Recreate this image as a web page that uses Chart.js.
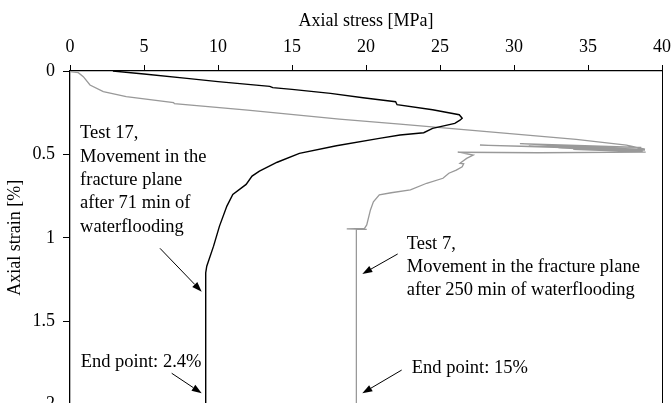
<!DOCTYPE html>
<html>
<head>
<meta charset="utf-8">
<script src="https://cdn.jsdelivr.net/npm/chart.js@4.4.0/dist/chart.umd.min.js"></script>
<style>
    html, body { margin: 0; padding: 0; background: #fff; overflow: hidden; }
    #wrap { position: relative; width: 671px; height: 430px; }
</style>
</head>
<body>
<div id="wrap"><canvas id="chart"></canvas></div>
<script>
// Test 17 (black): axial stress [MPa] vs axial strain [%]
const test17Stress = [2.9, 5.0, 7.9, 10.0, 13.5, 13.7, 15.0, 17.6, 19.8, 20.9, 22.0, 22.1, 24.5, 26.3, 26.5, 26.35, 26.0, 24.5, 23.9, 22.3, 20.9, 18.0, 15.5, 14.0, 12.8, 12.3, 11.9, 11.0, 10.6, 10.1, 9.7, 9.24, 9.17, 9.17];
const test17Strain = [0, 0.018, 0.044, 0.064, 0.092, 0.1, 0.11, 0.134, 0.16, 0.172, 0.184, 0.202, 0.232, 0.262, 0.283, 0.295, 0.314, 0.344, 0.37, 0.384, 0.404, 0.448, 0.494, 0.547, 0.6, 0.63, 0.68, 0.74, 0.81, 0.93, 1.05, 1.17, 1.21, 2.0];

// Test 7 (grey)
const test7Stress = [0, 0.56, 0.9, 1.35, 2.25, 3.8, 7.0, 7.05, 12.0, 18.2, 22.3, 27.0, 34.2, 37.6, 38.85,
    27.7, 38.85, 30.4, 38.6, 31.0, 38.8, 32.0, 38.7, 33.0, 38.5, 34.0, 38.9, 31.6, 26.2, 27.25, 26.8, 26.35, 26.6, 26.5, 26.1, 25.6, 25.2, 24.1, 23.0, 21.7, 20.9, 20.5, 20.3, 20.05, 19.9, 18.7, 20.05, 19.35, 19.35];
const test7Strain = [0.004, 0.01, 0.034, 0.084, 0.124, 0.154, 0.19, 0.196, 0.235, 0.288, 0.318, 0.355, 0.41, 0.444, 0.468,
    0.444, 0.474, 0.436, 0.458, 0.45, 0.472, 0.455, 0.478, 0.46, 0.482, 0.47, 0.486, 0.49, 0.487, 0.504, 0.524, 0.553, 0.556, 0.574, 0.594, 0.613, 0.643, 0.673, 0.713, 0.73, 0.743, 0.784, 0.833, 0.923, 0.943, 0.947, 0.949, 0.95, 2.0];

const xTicks = [0, 5, 10, 15, 20, 25, 30, 35, 40];
const yTicks = [0, 0.5, 1, 1.5, 2];
const yTickLabels = ['0', '0.5', '1', '1.5', '2'];

// annotation text blocks: [stress, strain of first line, lines]
const notes = [
    [0.68, 0.375, ['Test 17,', 'Movement in the', 'fracture plane', 'after 71 min of', 'waterflooding']],
    [0.72, 1.746, ['End point: 2.4%']],
    [22.75, 1.037, ['Test 7,', 'Movement in the fracture plane', 'after 250 min of waterflooding']],
    [23.09, 1.782, ['End point: 15%']]
];
// arrows: from (stress, strain) to (stress, strain)
const arrows = [
    [6.08, 1.063, 8.90, 1.323],
    [6.87, 1.812, 8.90, 1.932],
    [22.14, 1.097, 19.75, 1.217],
    [22.41, 1.793, 19.75, 1.932]
];

const toPoints = (xs, ys) => xs.map((x, i) => ({ x: x, y: ys[i] }));

const annotations = {
    id: 'annotations',
    afterDatasetsDraw(chart) {
        const { ctx, chartArea, scales: { x, y } } = chart;
        ctx.save();
        // right frame line
        ctx.strokeStyle = '#000';
        ctx.lineWidth = 1;
        ctx.beginPath();
        ctx.moveTo(chartArea.right + 0.5, chartArea.top);
        ctx.lineTo(chartArea.right + 0.5, chartArea.bottom);
        ctx.stroke();

        ctx.fillStyle = '#000';
        ctx.font = '18.5px "Liberation Serif", "Times New Roman", serif';
        ctx.textAlign = 'left';
        ctx.textBaseline = 'middle';
        notes.forEach(([sx, sy, lines]) => {
            const px = x.getPixelForValue(sx);
            const py = y.getPixelForValue(sy);
            lines.forEach((t, i) => ctx.fillText(t, px, py + i * 23.3));
        });

        arrows.forEach(([x1, y1, x2, y2]) => {
            const ax = x.getPixelForValue(x1), ay = y.getPixelForValue(y1);
            const bx = x.getPixelForValue(x2), by = y.getPixelForValue(y2);
            const ang = Math.atan2(by - ay, bx - ax);
            const len = 10, half = 3.5;
            const hx = bx - len * Math.cos(ang), hy = by - len * Math.sin(ang);
            ctx.beginPath();
            ctx.moveTo(ax, ay);
            ctx.lineTo(hx, hy);
            ctx.stroke();
            ctx.beginPath();
            ctx.moveTo(bx, by);
            ctx.lineTo(hx + half * Math.sin(ang), hy - half * Math.cos(ang));
            ctx.lineTo(hx - half * Math.sin(ang), hy + half * Math.cos(ang));
            ctx.closePath();
            ctx.fill();
        });
        ctx.restore();
    }
};

Chart.defaults.font.family = '"Liberation Serif", "Times New Roman", serif';
Chart.defaults.font.size = 18;
Chart.defaults.color = '#000';

const chart = new Chart(document.getElementById('chart'), {
    type: 'scatter',
    data: {
        datasets: [
            {
                label: 'Test 17',
                data: toPoints(test17Stress, test17Strain),
                showLine: true,
                borderColor: '#000',
                borderWidth: 1.4,
                pointRadius: 0,
                tension: 0
            },
            {
                label: 'Test 7',
                data: toPoints(test7Stress, test7Strain),
                showLine: true,
                borderColor: '#999',
                borderWidth: 1.3,
                pointRadius: 0,
                tension: 0
            }
        ]
    },
    options: {
        responsive: true,
        maintainAspectRatio: false,
        animation: false,
        layout: { padding: { top: 0, right: 9, bottom: 25.4, left: 0 } },
        plugins: { legend: { display: false }, tooltip: { enabled: false } },
        scales: {
            x: {
                type: 'linear',
                position: 'top',
                min: 0,
                max: 40,
                afterBuildTicks: (s) => { s.ticks = xTicks.map(v => ({ value: v })); },
                // fixed axis height; keep the label padding from widening the right margin
                afterFit: (s) => { s.height = 71; s.paddingLeft = 0; s.paddingRight = 9; },
                ticks: { padding: 7, maxRotation: 0 },
                grid: { drawOnChartArea: false, drawTicks: true, tickLength: 6, color: '#000', lineWidth: 1 },
                border: { display: true, color: '#000', width: 1.3 },
                title: { display: true, text: 'Axial stress [MPa]', padding: { top: 10, bottom: 0 } }
            },
            y: {
                type: 'linear',
                position: 'left',
                reverse: true,
                min: 0,
                max: 2,
                afterBuildTicks: (s) => { s.ticks = yTicks.map(v => ({ value: v })); },
                afterFit: (s) => { s.width = 70; },
                ticks: { padding: 8, callback: (v) => yTickLabels[yTicks.indexOf(v)] },
                grid: { drawOnChartArea: false, drawTicks: true, tickLength: 7, color: '#000', lineWidth: 1 },
                border: { display: true, color: '#000', width: 1.3 },
                title: { display: true, text: 'Axial strain [%]', padding: { top: 4, bottom: 0 } }
            }
        }
    },
    plugins: [annotations]
});
</script>
</body>
</html>
